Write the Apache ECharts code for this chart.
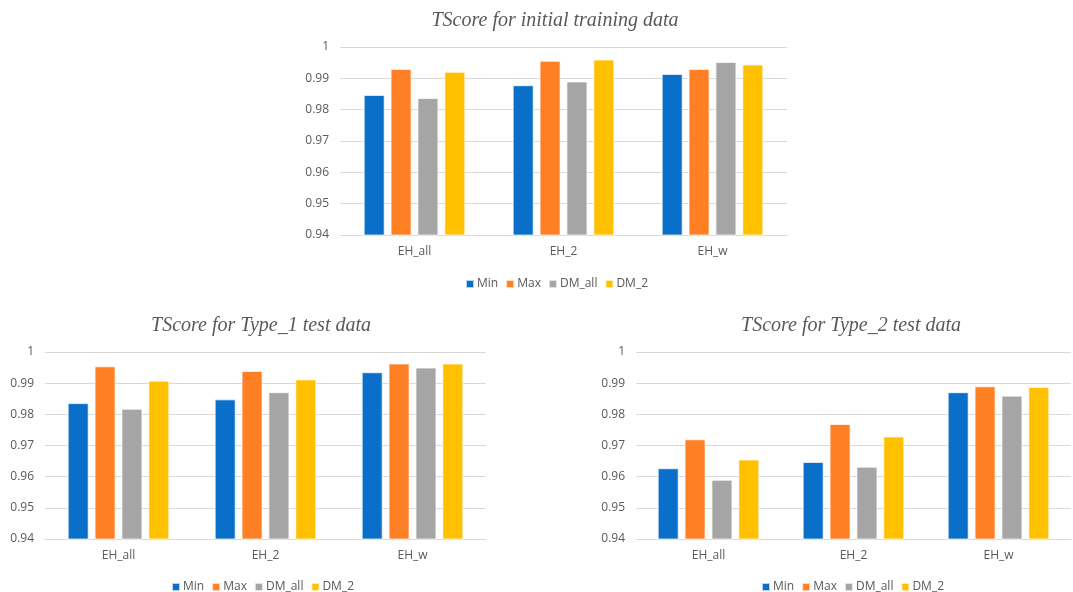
<!DOCTYPE html>
<html>
<head>
<meta charset="utf-8">
<script src="https://cdn.jsdelivr.net/npm/echarts@6/dist/echarts.min.js"></script>
<style>
  html, body { margin: 0; padding: 0; background: #fff; }
  #chart { width: 1073px; height: 592px; }
</style>
</head>
<body>
<div id="chart"></div>
<script>
// Categories and series names shared by the three panels
const categories = ['EH_all', 'EH_2', 'EH_w'];
const seriesNames = ['Min', 'Max', 'DM_all', 'DM_2'];
const colors = ['#0A6FC8', '#FF7F24', '#A5A5A5', '#FFC000'];

// TScore for initial training data
const initMin   = [0.9847, 0.9878, 0.9914];
const initMax   = [0.9930, 0.9956, 0.9930];
const initDMall = [0.9837, 0.9890, 0.9952];
const initDM2   = [0.9921, 0.9960, 0.9944];

// TScore for Type_1 test data
const t1Min   = [0.9836, 0.9848, 0.9935];
const t1Max   = [0.9954, 0.9939, 0.9963];
const t1DMall = [0.9818, 0.9871, 0.9950];
const t1DM2   = [0.9908, 0.9912, 0.9963];

// TScore for Type_2 test data
const t2Min   = [0.9627, 0.9647, 0.9871];
const t2Max   = [0.9720, 0.9769, 0.9890];
const t2DMall = [0.9590, 0.9632, 0.9860];
const t2DM2   = [0.9655, 0.9729, 0.9888];

const titles = [
  'TScore for initial training data',
  'TScore for Type_1 test data',
  'TScore for Type_2 test data'
];

const panels = [
  [initMin, initMax, initDMall, initDM2],
  [t1Min, t1Max, t1DMall, t1DM2],
  [t2Min, t2Max, t2DMall, t2DM2]
];

const textColor = '#595959';
const serifFont = '"Liberation Serif", "Times New Roman", serif';
const sansFont = '"Open Sans", "Noto Sans", sans-serif';

const grids = [
  { left: 340, right: 286, top: 47, bottom: 357 },
  { left: 45, right: 587, top: 352, bottom: 53 },
  { left: 636, right: 2, top: 352, bottom: 53 }
];
const titlePos = [
  { left: 550, top: 6 },
  { left: 256, top: 311 },
  { left: 846, top: 311 }
];
const legendPos = [
  { left: 460, top: 273 },
  { left: 166, top: 576 },
  { left: 756, top: 576 }
];

const option = {
  backgroundColor: '#ffffff',
  animation: false,
  color: colors,
  title: titles.map((t, i) => ({
    text: t,
    left: titlePos[i].left,
    top: titlePos[i].top,
    textAlign: 'center',
    textStyle: {
      fontFamily: serifFont,
      fontStyle: 'italic',
      fontWeight: 'normal',
      fontSize: 20,
      color: textColor
    }
  })),
  legend: legendPos.map(p => ({
    data: seriesNames,
    left: p.left,
    top: p.top,
    itemWidth: 8,
    itemHeight: 8,
    itemGap: 7,
    icon: 'rect',
    textStyle: { fontFamily: sansFont, fontSize: 12, color: textColor, padding: [0, 0, 0, -2] }
  })),
  grid: grids,
  xAxis: grids.map((g, i) => ({
    type: 'category',
    gridIndex: i,
    data: categories,
    axisTick: { show: false },
    axisLine: { lineStyle: { color: '#D9D9D9', width: 1 } },
    axisLabel: { fontFamily: sansFont, fontSize: 12, color: textColor, margin: 11 }
  })),
  yAxis: grids.map((g, i) => ({
    type: 'value',
    gridIndex: i,
    min: 0.94,
    max: 1,
    interval: 0.01,
    axisLine: { show: false },
    axisTick: { show: false },
    splitLine: { lineStyle: { color: '#D9D9D9', width: 1 } },
    axisLabel: {
      fontFamily: sansFont,
      fontSize: 12,
      color: textColor,
      margin: 11,
      formatter: v => String(+v.toFixed(2))
    }
  })),
  series: []
};

panels.forEach((vals, pi) => {
  vals.forEach((arr, si) => {
    option.series.push({
      name: seriesNames[si],
      type: 'bar',
      xAxisIndex: pi,
      yAxisIndex: pi,
      data: arr,
      barWidth: 21,
      barGap: '28%',
      itemStyle: { color: colors[si], borderColor: 'rgba(255,255,255,0.7)', borderWidth: 1 }
    });
  });
});

const chart = echarts.init(document.getElementById('chart'), null, { renderer: 'canvas' });
chart.setOption(option);
</script>
</body>
</html>
